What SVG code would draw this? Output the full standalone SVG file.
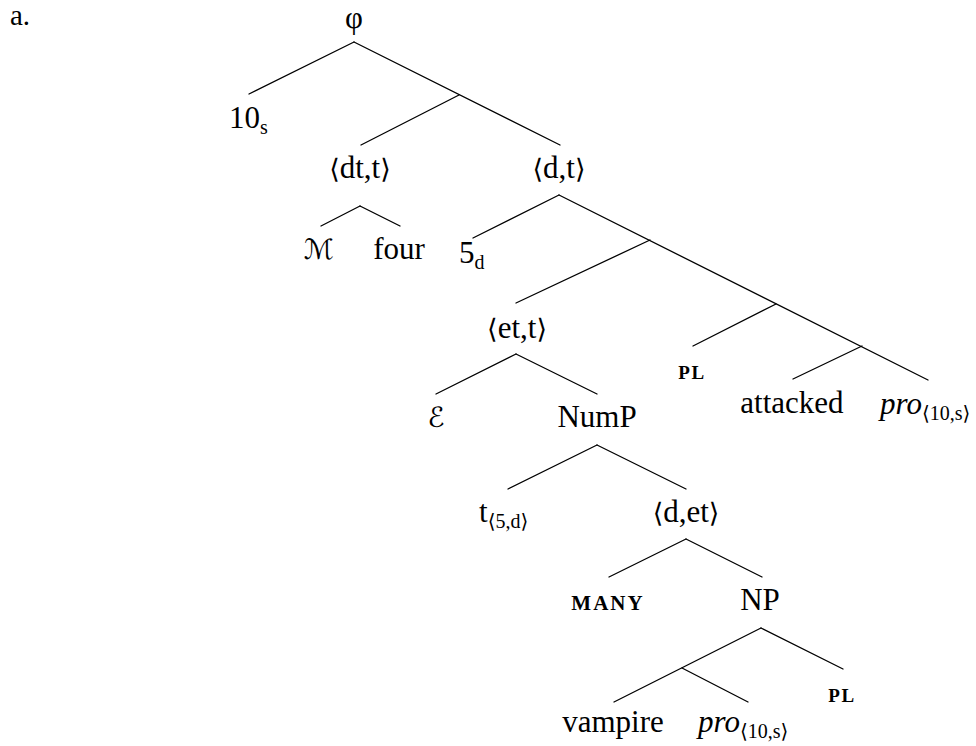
<svg xmlns="http://www.w3.org/2000/svg" width="976" height="746" viewBox="0 0 976 746">
<style>
text{font-family:"Liberation Serif","DejaVu Serif",serif;font-size:31px;fill:#000}
.m{text-anchor:middle}
.sub{font-size:20px}
.it{font-style:italic}
.sc{font-size:19px;letter-spacing:1.5px;font-weight:bold}
.scr{font-family:"DejaVu Serif","DejaVu Sans",serif;font-style:italic;font-size:28px}
.br{font-family:"DejaVu Serif","DejaVu Sans",serif;font-size:27px}
#edges line{stroke:#000;stroke-width:1.3;stroke-linecap:round}
</style>
<rect width="976" height="746" fill="#fff"/>
<g id="edges">
<line x1="354" y1="42" x2="249" y2="94"/>
<line x1="354" y1="42" x2="560" y2="145"/>
<line x1="459" y1="95" x2="361" y2="145"/>
<line x1="360" y1="206" x2="321" y2="226"/>
<line x1="360" y1="206" x2="400" y2="226"/>
<line x1="559" y1="195" x2="473" y2="238"/>
<line x1="559" y1="195" x2="928" y2="380"/>
<line x1="650" y1="240" x2="516" y2="303"/>
<line x1="776" y1="304" x2="693" y2="346"/>
<line x1="862" y1="346" x2="793" y2="379"/>
<line x1="516" y1="354" x2="436" y2="394"/>
<line x1="516" y1="354" x2="597" y2="394"/>
<line x1="597" y1="445" x2="508" y2="489"/>
<line x1="597" y1="445" x2="686" y2="489"/>
<line x1="686" y1="539" x2="609" y2="577"/>
<line x1="686" y1="539" x2="762" y2="577"/>
<line x1="761" y1="628" x2="614" y2="702"/>
<line x1="761" y1="628" x2="843" y2="669"/>
<line x1="682" y1="668" x2="748" y2="702"/>
</g>
<g id="label-a"><text x="10" y="25" style="font-size:29px">a.</text></g>
<g id="n-phi"><text class="m" x="354" y="28">φ</text></g>
<g id="n-10s"><text x="229" y="128">10<tspan class="sub" dy="6">s</tspan></text></g>
<g id="n-dtt"><text class="m" x="360" y="178"><tspan class="br">⟨</tspan>dt,t<tspan class="br">⟩</tspan></text></g>
<g id="n-dt"><text class="m" x="559" y="178"><tspan class="br">⟨</tspan>d,t<tspan class="br">⟩</tspan></text></g>
<g id="n-M"><text class="m scr" x="319" y="259">ℳ</text></g>
<g id="n-four"><text class="m" x="399" y="259">four</text></g>
<g id="n-5d"><text x="459" y="263">5<tspan class="sub" dy="6">d</tspan></text></g>
<g id="n-ett"><text class="m" x="517" y="338"><tspan class="br">⟨</tspan>et,t<tspan class="br">⟩</tspan></text></g>
<g id="n-pl1"><text class="m sc" x="692" y="379">PL</text></g>
<g id="n-E"><text class="m scr" x="436" y="427">ℰ</text></g>
<g id="n-NumP"><text class="m" x="597" y="427">NumP</text></g>
<g id="n-attacked"><text class="m" x="792" y="413">attacked</text></g>
<g id="n-pro1"><text x="880" y="414"><tspan class="it">pro</tspan><tspan class="sub" dy="6">⟨10,s⟩</tspan></text></g>
<g id="n-t5d"><text x="479" y="522">t<tspan class="sub" dy="6">⟨5,d⟩</tspan></text></g>
<g id="n-det"><text class="m" x="686" y="522"><tspan class="br">⟨</tspan>d,et<tspan class="br">⟩</tspan></text></g>
<g id="n-many"><text class="m sc" x="608" y="610" style="font-size:21px;letter-spacing:2px">MANY</text></g>
<g id="n-NP"><text class="m" x="760" y="610">NP</text></g>
<g id="n-pl2"><text class="m sc" x="842" y="702">PL</text></g>
<g id="n-vampire"><text class="m" x="613" y="732">vampire</text></g>
<g id="n-pro2"><text x="698" y="732"><tspan class="it">pro</tspan><tspan class="sub" dy="6">⟨10,s⟩</tspan></text></g>
</svg>
